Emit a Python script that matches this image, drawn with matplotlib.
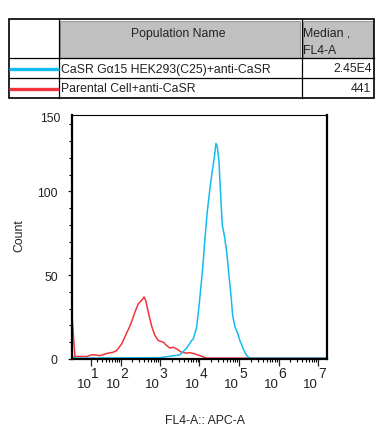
import numpy as np
import matplotlib
matplotlib.use('Agg')
import matplotlib.pyplot as plt
from matplotlib.patches import Rectangle

plt.rcParams['font.family'] = ['Liberation Sans', 'DejaVu Sans']
plt.rcParams['font.size'] = 8.8

# populations shown in the table / legend
pop_names = ['CaSR G\u03b115 HEK293(C25)+anti-CaSR', 'Parental Cell+anti-CaSR']
pop_medians = ['2.45E4', '441']
pop_colors = ['#13bcf0', '#f2343c']

# FL4-A intensity vs count
red_x = [-21, -18, -15.6, -7.5, 2.6, 10.8, 15.8, 25.3, 41.5, 62.8, 78.9, 106.8,
         143.6, 181, 234, 284.5, 346.8, 396.5, 437.7, 509, 620.7, 752, 911,
         1220, 1484, 1801, 2180, 2657, 3557, 4756, 5763, 7714, 10315, 15262,
         24700, 59000, 189400, 1.085e6, 16.7e6]
red_y = [26, 12, 1.5, 1.5, 1.5, 2.5, 2.5, 2, 3.3, 4, 5, 9,
         15.5, 20.5, 28, 33, 35, 37, 35, 28, 19.5, 14, 11,
         10, 8, 6.5, 7, 6, 4, 3.5, 3.8, 3, 2, 0.5,
         0.5, 0.5, 0.5, 0.5, 0.5]

blue_x = [-21, -15.6, 1006, 3224, 4756, 6362, 6990, 8520, 9910, 12060, 13820,
          15800, 18470, 21110, 23710, 26150, 28210, 31150, 34400, 37800, 42420,
          48800, 55780, 61600, 69270, 79170, 90480, 105800, 128400, 156500,
          189400, 339000, 16.7e6]
blue_y = [2, 0.5, 0.8, 2.5, 6.5, 11, 12, 19, 33, 54, 72,
          88, 102, 112, 120, 128.6, 127, 118, 98, 80, 74,
          64, 50, 40, 26, 19, 16, 11, 6, 2,
          0.5, 0.5, 0.5]

x_decades = [1, 2, 3, 4, 5, 6, 7]
y_major = [0, 50, 100]
x_min, x_max = -21.6, 16777215
y_max = 145.6

C = 25.5  # biex linear width
def fwd(x):
    return np.arcsinh(np.asarray(x) / C) / np.log(10)
def inv(y):
    return C * np.sinh(np.asarray(y) * np.log(10))

fig = plt.figure(figsize=(3.89, 4.39), dpi=100)

# ---- table on top
tab = fig.add_axes([0, 0, 1, 1])
tab.set_xlim(0, 389)
tab.set_ylim(439, 0)
tab.axis('off')
tab.add_patch(Rectangle((60.5, 21.5), 240, 37, facecolor='#c0c0c0', edgecolor='#9a9a9a', lw=0.8))
tab.add_patch(Rectangle((303.2, 21.5), 69.8, 37, facecolor='#c0c0c0', edgecolor='#9a9a9a', lw=0.8))
tab.add_patch(Rectangle((9.3, 20.3), 365, 78.7, facecolor='none', edgecolor='black', lw=1.2))
tab.plot([9.3, 374.3], [59.3, 59.3], color='black', lw=0.9)
tab.plot([9.3, 374.3], [79, 79], color='black', lw=0.9)
tab.plot([58.7, 58.7], [20.3, 99], color='black', lw=0.9)
tab.plot([301.7, 301.7], [20.3, 99], color='black', lw=0.9)
tab.text(178, 33.5, 'Population Name', ha='center', va='center', color='#222222')
tab.text(303.5, 33.5, 'Median ,', ha='left', va='center', color='#222222')
tab.text(303.5, 51.5, 'FL4-A', ha='left', va='center', color='#222222')
for i, (name, med, col) in enumerate(zip(pop_names, pop_medians, pop_colors)):
    yc = 69.5 + i * 20
    tab.plot([9.3, 58.7], [yc, yc], color=col, lw=2.4, solid_capstyle='butt')
    tab.text(61, yc, name, ha='left', va='center', color='#222222')
    tab.text(371.5, yc, med, ha='right', va='center', color='#222222')

# ---- histogram
ax = fig.add_axes([71.7 / 389, 79 / 439, 255.3 / 389, 244 / 439])
ax.set_xscale('function', functions=(fwd, inv))
ax.plot(red_x, red_y, color=pop_colors[1], lw=1.1)
ax.plot(blue_x, blue_y, color=pop_colors[0], lw=1.1)
ax.set_xlim(x_min, x_max)
ax.set_ylim(0, y_max)

x_major = [10.0 ** k for k in x_decades]
ax.set_xticks(x_major)
ax.set_xticklabels(['10'] * len(x_major), fontsize=9.5, ha='right')
for k, xv in zip(x_decades, x_major):
    ax.text(xv, -0.074, str(k), transform=ax.get_xaxis_transform(),
            ha='left', va='baseline', fontsize=10, color='#222222')
minors = [m * 10 ** k for k in range(1, 7) for m in range(2, 10)]
ax.set_xticks(minors, minor=True)
ax.set_yticks(y_major)
ax.set_yticks(np.arange(10, 150, 10), minor=True)
ax.text(-0.045, y_max - 1.5, '150', transform=ax.get_yaxis_transform(),
        ha='right', va='center', color='#222222')

ax.tick_params(axis='x', which='major', direction='out', length=5, width=0.9, pad=8.5, colors='#222222')
ax.tick_params(axis='x', which='minor', direction='out', length=2.5, width=0.8)
ax.tick_params(axis='y', which='major', direction='out', length=3, width=0.9, pad=7, colors='#222222')
ax.tick_params(axis='y', which='minor', direction='out', length=2.2, width=0.8)

for s in ['left', 'bottom', 'right']:
    ax.spines[s].set_linewidth(1.6)
ax.spines['top'].set_linewidth(0.8)

ax.set_ylabel('Count', color='#222222')
ax.yaxis.set_label_coords(-0.18, 0.51)
ax.set_xlabel('FL4-A:: APC-A', color='#222222')
ax.xaxis.set_label_coords(0.522, -0.226)

fig.savefig('out.png', dpi=100)
